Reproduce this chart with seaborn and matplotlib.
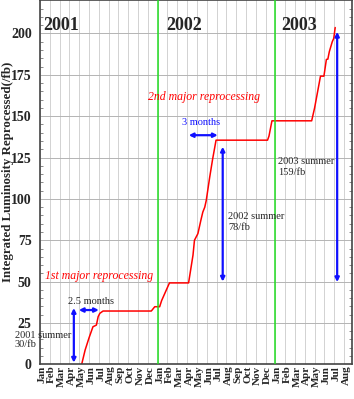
import matplotlib
matplotlib.use('Agg')
import matplotlib.pyplot as plt
import seaborn as sns
import numpy as np
import pandas as pd

# cumulative reprocessed luminosity, x = months since Jan 2001
months = [4.25, 4.6, 5.0, 5.4, 5.75, 5.93, 6.1, 6.43, 11.35, 11.7, 12.2, 12.4,
          13.2, 15.15, 15.6, 15.75, 16.1, 16.4, 16.6, 16.8, 16.95, 17.3, 17.6,
          17.95, 23.2, 23.35, 23.65, 27.7, 28.0, 28.6, 28.95, 29.2, 29.35, 29.5,
          29.8, 29.95, 30.1]
lumi = [0, 8.6, 16, 22.7, 23.7, 28.8, 30.8, 32.2, 32.2, 34.8, 34.8, 38.5,
        49.2, 49.2, 66, 75, 79, 87, 92, 95, 99, 113, 124,
        135.5, 135.5, 138, 147.2, 147.2, 155, 174.2, 174.2, 184.3, 184.5, 189,
        195, 197, 203.6]

month_names = ['Jan', 'Feb', 'Mar', 'Apr', 'May', 'Jun', 'Jul', 'Aug',
               'Sep', 'Oct', 'Nov', 'Dec']
tick_labels = month_names * 2 + month_names[:8]
years = ['2001', '2002', '2003']
year_x = [2.13, 14.7, 26.45]
year_bounds = [12, 24]

sns.set_style("white")
plt.rcParams['font.family'] = ['Liberation Serif', 'DejaVu Serif']

fig = plt.figure(figsize=(3.54, 3.99), dpi=100)
ax = fig.add_axes([0.113, 0.087, 0.881, 0.912])

df = pd.DataFrame({'month': months, 'lumi': lumi})
sns.lineplot(data=df, x='month', y='lumi', sort=False, color='red', lw=1.1, ax=ax)

for b in year_bounds:
    ax.axvline(b, color='#22dd22', lw=1.1, zorder=3)

ax.set_xlim(0, 31.8)
ax.set_ylim(0, 220)

# grid
ax.set_xticks(np.arange(0, 32), minor=True)
ax.set_yticks(np.arange(0, 201, 25))
ax.set_yticks(np.arange(0, 220, 5), minor=True)
ax.grid(which='minor', axis='x', color='#d2d2d2', lw=0.7)
ax.grid(which='major', axis='y', color='#b4b4b4', lw=0.7)
ax.set_axisbelow(True)

ax.set_xticks(np.arange(32) + 0.2)
ax.set_xticklabels(tick_labels, rotation=90, fontsize=8, fontweight='bold', va='top')
ax.set_yticklabels([str(v) for v in range(0, 201, 25)], fontsize=10, fontweight='bold')
ax.tick_params(axis='x', which='both', length=0, pad=1)
ax.tick_params(axis='y', which='major', length=0, pad=6)
ax.tick_params(axis='y', which='minor', direction='in', length=2.5, left=True,
               right=True, color='#777777')

for s in ax.spines.values():
    s.set_color('#444444')
    s.set_linewidth(1.2)

ax.set_xlabel('')
ax.set_ylabel('Integrated Luminosity Reprocessed(/fb)', fontsize=9.3,
              fontweight='bold', va='center')
ax.yaxis.set_label_coords(-0.103, 0.53)

for yr, x in zip(years, year_x):
    ax.text(x, 205, yr, fontsize=13, fontweight='bold', ha='center', va='center')

ax.text(16.77, 161.5, '2nd major reprocessing', color='red', style='italic',
        fontsize=8.5, ha='center', va='center')
ax.text(6.05, 53.4, '1st major reprocessing', color='red', style='italic',
        fontsize=8.5, ha='center', va='center')

blue = '#1010ff'
arrow = dict(arrowstyle='<|-|>', color=blue, lw=1.6, mutation_scale=6,
             shrinkA=0, shrinkB=0)

# 2001
ax.annotate('', xy=(3.45, 1), xytext=(3.45, 34), arrowprops=arrow)
ax.annotate('', xy=(3.96, 32.8), xytext=(6.0, 32.8), arrowprops=arrow)
ax.text(5.2, 37.8, '2.5 months', fontsize=7.5, ha='center', va='center')
ax.text(-2.55, 17.3, '2001 summer', fontsize=7.5, ha='left', va='center', clip_on=False)
ax.text(-2.55, 11.7, '30/fb', fontsize=7.5, ha='left', va='center', clip_on=False)

# 2002
ax.annotate('', xy=(15.17, 138.5), xytext=(18.12, 138.5), arrowprops=arrow)
ax.text(16.43, 146.4, '3 months', fontsize=7.5, color=blue, ha='center', va='center')
ax.annotate('', xy=(18.63, 50), xytext=(18.63, 131.5), arrowprops=arrow)
ax.text(19.2, 89.2, '2002 summer', fontsize=7.5, ha='left', va='center')
ax.text(19.2, 82.4, '78/fb', fontsize=7.5, ha='left', va='center')

# 2003
ax.annotate('', xy=(30.3, 49.7), xytext=(30.3, 201), arrowprops=arrow)
ax.text(24.3, 122.3, '2003 summer', fontsize=7.5, ha='left', va='center')
ax.text(24.3, 116.2, '159/fb', fontsize=7.5, ha='left', va='center')

fig.savefig('out.png', dpi=100)
